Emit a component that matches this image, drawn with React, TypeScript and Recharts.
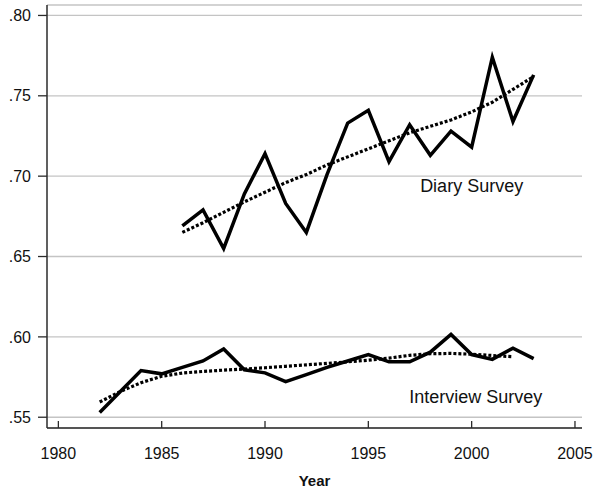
import React from 'react';
import { LineChart, Line, XAxis, YAxis, CartesianGrid, ReferenceDot } from 'recharts';

// Survey years
const years = [
  1982, 1983, 1984, 1985, 1986, 1987, 1988, 1989, 1990, 1991, 1992,
  1993, 1994, 1995, 1996, 1997, 1998, 1999, 2000, 2001, 2002, 2003,
];

// Diary survey ratio (starts in 1986)
const diarySurvey = [
  null, null, null, null, 0.669, 0.679, 0.655, 0.689, 0.714, 0.683, 0.665,
  0.701, 0.733, 0.741, 0.709, 0.732, 0.713, 0.728, 0.718, 0.774, 0.734, 0.763,
];

// Interview survey ratio
const interviewSurvey = [
  0.553, 0.566, 0.579, 0.577, 0.581, 0.585, 0.5925, 0.5795, 0.5776, 0.5722, 0.5765,
  0.581, 0.585, 0.589, 0.5845, 0.5845, 0.5905, 0.6015, 0.589, 0.586, 0.593, 0.5865,
];

// Smoothed trends
const diaryTrend = [
  null, null, null, null, 0.665, 0.671, 0.6775, 0.684, 0.69, 0.696, 0.701,
  0.707, 0.712, 0.717, 0.722, 0.727, 0.731, 0.735, 0.74, 0.746, 0.754, 0.762,
];

const interviewTrend = [
  0.5595, 0.566, 0.5715, 0.5755, 0.5775, 0.5785, 0.5793, 0.58, 0.5808, 0.5817, 0.5826,
  0.5835, 0.5845, 0.5855, 0.5868, 0.5885, 0.5895, 0.5897, 0.5892, 0.5884, 0.5877, null,
];

const xTicks = [1980, 1985, 1990, 1995, 2000, 2005];
const yTicks = [0.55, 0.6, 0.65, 0.7, 0.75, 0.8];

const data = years.map((year, i) => ({
  year,
  diary: diarySurvey[i],
  interview: interviewSurvey[i],
  diaryTrend: diaryTrend[i],
  interviewTrend: interviewTrend[i],
}));

const FONT = '"Liberation Sans", Arial, Helvetica, sans-serif';
const AXIS = '#2b2b2b';
const X_DOMAIN: [number, number] = [1979.45, 2005.34];
const Y_DOMAIN: [number, number] = [0.5433, 0.8065];

const fmtY = (v: number) => v.toFixed(2).replace(/^0/, '');

// Bottom axis: ticks point inward, labels below
function BottomTick(props: any) {
  const { x, y, payload } = props;
  return (
    <g>
      <line x1={x} x2={x} y1={y} y2={y - 7} stroke={AXIS} strokeWidth={1.3} />
      <text x={x} y={y + 31} textAnchor="middle" fontSize={16} fontFamily={FONT} fill="#111">
        {payload.value}
      </text>
    </g>
  );
}

// Top frame: inward ticks only
function TopTick(props: any) {
  const { x, y } = props;
  return <line x1={x} x2={x} y1={y} y2={y + 8} stroke={AXIS} strokeWidth={1.3} />;
}

const annotation = (text: string) => (props: any) => {
  const vb = props.viewBox || {};
  return (
    <text
      x={vb.x + vb.width / 2}
      y={vb.y + vb.height / 2}
      textAnchor="middle"
      fontSize={18}
      fontFamily={FONT}
      fill="#111"
    >
      {text}
    </text>
  );
};

export default function App() {
  return (
    <div style={{ position: 'absolute', left: 0, top: 0 }}>
      <LineChart
        width={596}
        height={492}
        data={data}
        margin={{ top: 5, right: 14, bottom: 0, left: 0 }}
      >
        <CartesianGrid vertical={false} stroke="#c4c4c4" strokeWidth={1.3} />
        <XAxis
          dataKey="year"
          type="number"
          domain={X_DOMAIN}
          ticks={xTicks}
          allowDataOverflow
          interval={0}
          height={64}
          axisLine={{ stroke: AXIS, strokeWidth: 1.5 }}
          tickLine={false}
          tickSize={0}
          tickMargin={0}
          tick={<BottomTick />}
          label={{
            value: 'Year',
            position: 'insideBottom',
            offset: 6,
            style: { fontWeight: 'bold', fontSize: 15, fill: '#111', fontFamily: FONT },
          }}
        />
        <XAxis
          xAxisId="top"
          orientation="top"
          dataKey="year"
          type="number"
          domain={X_DOMAIN}
          ticks={xTicks}
          allowDataOverflow
          interval={0}
          height={0}
          axisLine={{ stroke: AXIS, strokeWidth: 1.5 }}
          tickLine={false}
          tickSize={0}
          tickMargin={0}
          tick={<TopTick />}
        />
        <YAxis
          type="number"
          domain={Y_DOMAIN}
          ticks={yTicks}
          allowDataOverflow
          interval={0}
          width={47}
          axisLine={{ stroke: AXIS, strokeWidth: 1.5 }}
          tickLine={{ stroke: AXIS, strokeWidth: 1.3 }}
          tickSize={9}
          tickMargin={7}
          tickFormatter={fmtY}
          tick={{ fontSize: 16, fill: '#111', fontFamily: FONT }}
        />
        <YAxis
          yAxisId="right"
          orientation="right"
          type="number"
          domain={Y_DOMAIN}
          allowDataOverflow
          width={0}
          tick={false}
          tickLine={false}
          axisLine={{ stroke: AXIS, strokeWidth: 1.5 }}
        />

        <Line
          dataKey="diary"
          type="linear"
          stroke="#000"
          strokeWidth={3.5}
          strokeLinejoin="miter"
          dot={false}
          activeDot={false}
          isAnimationActive={false}
        />
        <Line
          dataKey="interview"
          type="linear"
          stroke="#000"
          strokeWidth={3.5}
          strokeLinejoin="miter"
          dot={false}
          activeDot={false}
          isAnimationActive={false}
        />
        <Line
          dataKey="diaryTrend"
          type="linear"
          stroke="#000"
          strokeWidth={3.2}
          strokeDasharray="3 2"
          dot={false}
          activeDot={false}
          isAnimationActive={false}
        />
        <Line
          dataKey="interviewTrend"
          type="linear"
          stroke="#000"
          strokeWidth={3.2}
          strokeDasharray="3 2"
          dot={false}
          activeDot={false}
          isAnimationActive={false}
        />

        <ReferenceDot
          x={2000}
          y={0.6903}
          r={1}
          fill="none"
          stroke="none"
          label={annotation('Diary Survey')}
        />
        <ReferenceDot
          x={2000.2}
          y={0.5587}
          r={1}
          fill="none"
          stroke="none"
          label={annotation('Interview Survey')}
        />
      </LineChart>
    </div>
  );
}
